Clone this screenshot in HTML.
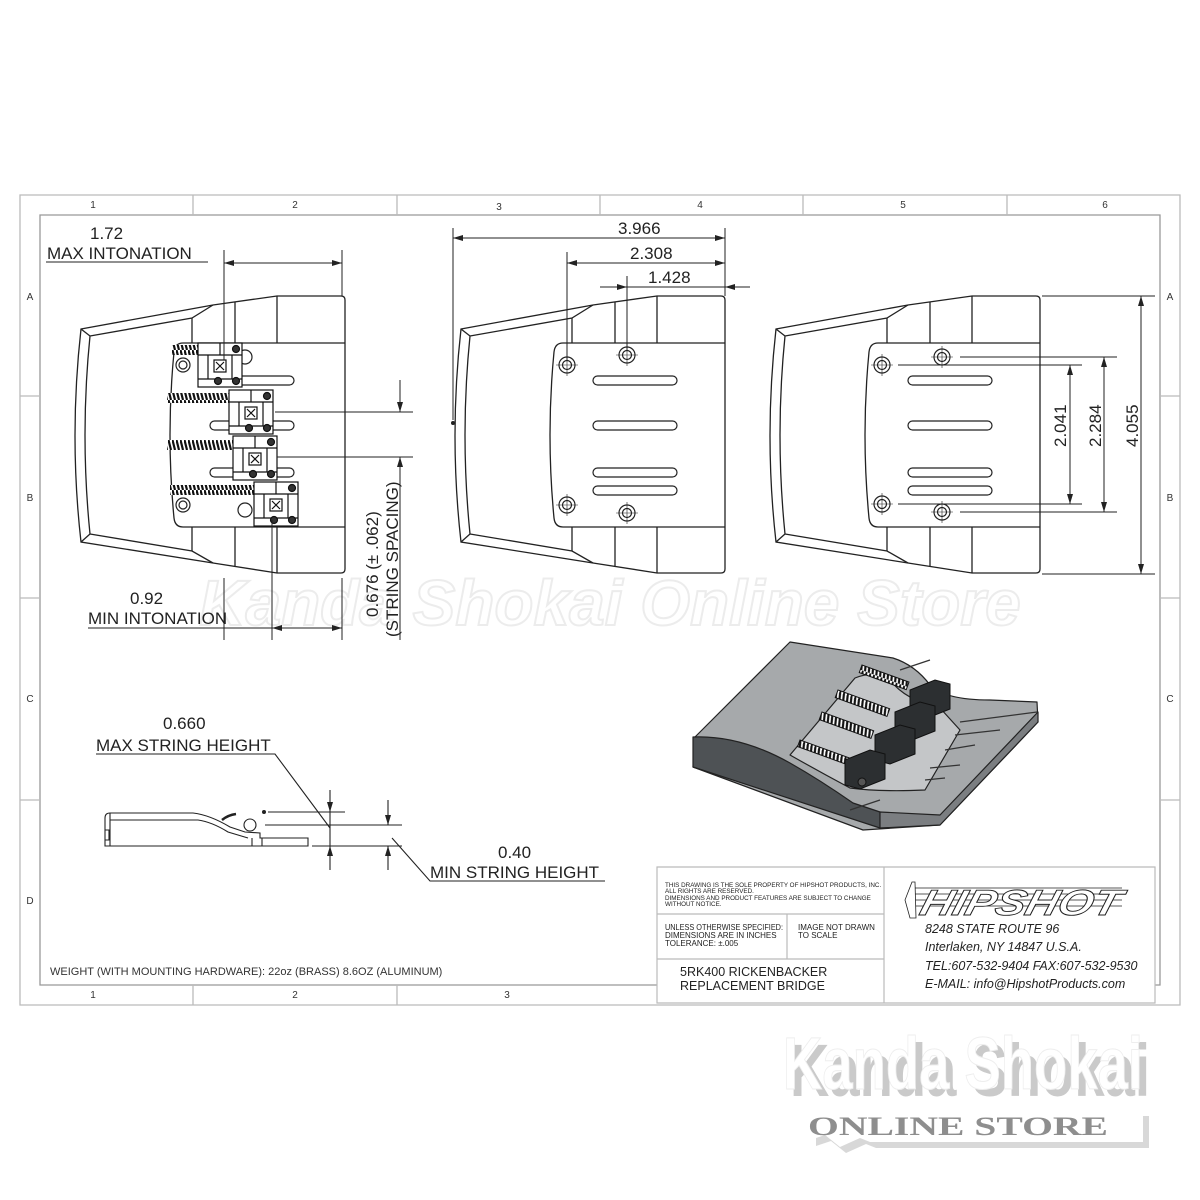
<!DOCTYPE html>
<html><head><meta charset="utf-8"><style>
html,body{margin:0;padding:0;background:#fff;}
svg{display:block;font-family:"Liberation Sans",sans-serif;}
</style></head><body>
<svg width="1200" height="1200" viewBox="0 0 1200 1200" xmlns="http://www.w3.org/2000/svg">
<defs>
<marker id="ar" viewBox="0 0 10 6" refX="10" refY="3" markerWidth="10" markerHeight="6" orient="auto-start-reverse" markerUnits="userSpaceOnUse"><path d="M0,0 L10,3 L0,6 z" fill="#222"/></marker>
<g id="body" fill="none" stroke="#222" stroke-width="1.3">
  <path d="M8,33 L140,9 L204,0 L268,0 Q272,0 272,4 L272,273 Q272,277 268,277 L204,277 L140,267 L8,246 Q-4,140 8,33 Z" fill="#fff"/>
  <path d="M17,40 L119,22 L140,9 M17,238 L119,255 L140,267 M17,40 Q7,139 17,238 M8,33 L17,40 M8,246 L17,238"/>
  <path d="M119,22 V47 M162,6 V47 M204,0 V47 M119,231 V255 M162,231 V271 M204,231 V277"/>
  <path d="M110,47 L272,47 M272,231 L110,231 Q102,231 101,222 Q93,139 101,56 Q102,47 110,47" />
</g>
<g id="holes" fill="none" stroke="#222" stroke-width="1.2">
  <circle cx="114" cy="69" r="8"/><circle cx="114" cy="69" r="4.5"/>
  <circle cx="174" cy="59" r="8"/><circle cx="174" cy="59" r="4.5"/>
  <circle cx="114" cy="209" r="8"/><circle cx="114" cy="209" r="4.5"/>
  <circle cx="174" cy="217" r="8"/><circle cx="174" cy="217" r="4.5"/>
  <path d="M103,69h22M114,58v22M163,59h22M174,48v22M103,209h22M114,198v22M163,217h22M174,206v22" stroke-width="0.6"/>
</g>
<g id="slots" fill="none" stroke="#222" stroke-width="1.2">
  <rect x="140" y="80" width="84" height="9" rx="4.5"/>
  <rect x="140" y="125" width="84" height="9" rx="4.5"/>
  <rect x="140" y="172" width="84" height="9" rx="4.5"/>
  <rect x="140" y="190" width="84" height="9" rx="4.5"/>
</g>
<g id="saddle" fill="#fff" stroke="#111" stroke-width="1.2">
  <rect x="0" y="0" width="44" height="44"/>
  <path d="M0,12H44M22,0V12M0,36H44M10,12V36M34,12V36" fill="none"/>
  <rect x="16" y="17" width="12" height="12"/>
  <path d="M18,19L26,27M26,19L18,27" />
  <circle cx="38" cy="6" r="3.5" fill="#333"/><circle cx="38" cy="38" r="3.5" fill="#333"/><circle cx="20" cy="38" r="3.5" fill="#333"/>
</g>
<pattern id="spr" width="4" height="10" patternUnits="userSpaceOnUse"><rect width="4" height="10" fill="#fff"/><path d="M0.5,0 L3,10" stroke="#111" stroke-width="2.2"/></pattern>
</defs>

<!-- frame -->
<g fill="none" stroke="#bbb" stroke-width="1.3">
  <path d="M20,195 H1180 V1005 H20 Z"/>
  <path d="M40,215 H1160 V985 H40 Z" stroke="#999"/>
  <path d="M193,195V215M397,195V215M600,195V215M803,195V215M1007,195V215"/>
  <path d="M193,985V1005M397,985V1005"/>
  <path d="M20,396H40M20,598H40M20,800H40M1160,396H1180M1160,598H1180M1160,800H1180"/>
</g>
<g font-size="10" fill="#333" text-anchor="middle">
  <text x="93" y="208">1</text><text x="295" y="208">2</text><text x="499" y="210">3</text><text x="700" y="208">4</text><text x="903" y="208">5</text><text x="1105" y="208">6</text>
  <text x="93" y="998">1</text><text x="295" y="998">2</text><text x="507" y="998">3</text>
  <text x="30" y="300">A</text><text x="30" y="501">B</text><text x="30" y="702">C</text><text x="30" y="904">D</text>
  <text x="1170" y="300">A</text><text x="1170" y="501">B</text><text x="1170" y="702">C</text>
</g>

<!-- watermark -->
<text x="610" y="625" font-size="64" font-weight="bold" fill="none" stroke="#ececec" stroke-width="2" text-anchor="middle" font-style="italic">Kanda Shokai Online Store</text>

<!-- left view -->
<g transform="translate(73,296)"><use href="#body"/></g>
<g transform="translate(73,296)" fill="none" stroke="#222" stroke-width="1.2">
  <rect x="137" y="80" width="84" height="9" rx="4.5"/><rect x="137" y="125" width="84" height="9" rx="4.5"/><rect x="137" y="172" width="84" height="9" rx="4.5"/>
  <circle cx="110" cy="69" r="7"/><circle cx="110" cy="69" r="4"/><circle cx="172" cy="61" r="7"/>
  <circle cx="110" cy="209" r="7"/><circle cx="110" cy="209" r="4"/><circle cx="172" cy="214" r="7"/>
</g>
<rect x="172" y="345" width="27" height="10" fill="url(#spr)"/>
<rect x="167" y="393" width="62" height="10" fill="url(#spr)"/>
<rect x="167" y="440" width="66" height="10" fill="url(#spr)"/>
<rect x="170" y="485" width="84" height="10" fill="url(#spr)"/>
<use href="#saddle" x="198" y="343"/>
<use href="#saddle" x="229" y="390"/>
<use href="#saddle" x="233" y="436"/>
<use href="#saddle" x="254" y="482"/>

<!-- left dims -->
<g stroke="#222" stroke-width="1" fill="none">
  <path d="M46,262H208"/>
  <path d="M224,250V360M342,250V296M224,578V640M272,520V640M342,578V640"/>
  <path d="M224,263H342" marker-start="url(#ar)" marker-end="url(#ar)"/>
  <path d="M88,628H272"/>
  <path d="M272,628H342" marker-start="url(#ar)" marker-end="url(#ar)"/>
  <path d="M275,412H413M277,457H413"/>
  <path d="M400,380V412" marker-end="url(#ar)"/>
  <path d="M400,490V457" marker-end="url(#ar)"/>
  <path d="M400,457V640"/>
</g>
<g font-size="17" fill="#222">
  <text x="90" y="239">1.72</text>
  <text x="47" y="259">MAX INTONATION</text>
  <text x="130" y="604">0.92</text>
  <text x="88" y="624">MIN INTONATION</text>
  <text transform="translate(378,617) rotate(-90)">0.676 (± .062)</text>
  <text transform="translate(398,637) rotate(-90)">(STRING SPACING)</text>
</g>

<!-- middle view -->
<g transform="translate(453,296)"><use href="#body"/><use href="#holes"/><use href="#slots"/></g>
<g stroke="#222" stroke-width="1" fill="none">
  <path d="M453,228V420M567,252V360M627,276V350M725,228V296"/>
  <path d="M453,238H725" marker-start="url(#ar)" marker-end="url(#ar)"/>
  <path d="M567,263H725" marker-start="url(#ar)" marker-end="url(#ar)"/>
  <path d="M600,287H627" marker-end="url(#ar)"/><path d="M750,287H725" marker-end="url(#ar)"/><path d="M627,287H725"/>
</g>
<circle cx="453" cy="423" r="2" fill="#222"/>
<g font-size="17" fill="#222">
  <text x="618" y="234">3.966</text>
  <text x="630" y="259">2.308</text>
  <text x="648" y="283">1.428</text>
</g>

<!-- right view -->
<g transform="translate(768,296)"><use href="#body"/><use href="#slots"/></g>
<g transform="translate(768,296)" fill="none" stroke="#222" stroke-width="1.2">
  <circle cx="114" cy="69" r="8"/><circle cx="114" cy="69" r="4.5"/>
  <circle cx="174" cy="61" r="8"/><circle cx="174" cy="61" r="4.5"/>
  <circle cx="114" cy="208" r="8"/><circle cx="114" cy="208" r="4.5"/>
  <circle cx="174" cy="216" r="8"/><circle cx="174" cy="216" r="4.5"/>
  <path d="M103,69h22M114,58v22M163,61h22M174,50v22M103,208h22M114,197v22M163,216h22M174,205v22" stroke-width="0.6"/>
</g>
<g stroke="#222" stroke-width="1" fill="none">
  <path d="M898,365H1082M960,357H1117M898,504H1082M960,512H1117M1042,296H1155M1042,574H1155"/>
  <path d="M1070,365V504" marker-start="url(#ar)" marker-end="url(#ar)"/>
  <path d="M1104,357V512" marker-start="url(#ar)" marker-end="url(#ar)"/>
  <path d="M1141,296V574" marker-start="url(#ar)" marker-end="url(#ar)"/>
</g>
<g font-size="17" fill="#222">
  <text transform="translate(1066,447) rotate(-90)">2.041</text>
  <text transform="translate(1101,447) rotate(-90)">2.284</text>
  <text transform="translate(1138,447) rotate(-90)">4.055</text>
</g>

<!-- side view -->
<g stroke="#222" stroke-width="1.1" fill="none">
  <path d="M110,813 H193 Q210,815 230,827 L245,832 L260,833 V838 H308 V846 H105 V818 Q105,813 110,813 Z" fill="#fff"/>
  <path d="M110,820 H198 Q212,822 228,832 L248,838"/>
  <path d="M110,813 V846 M105,830h4v10h-4"/>
  <circle cx="250" cy="825" r="6"/>
  <path d="M222,820 Q228,815 236,814" stroke-width="2.5"/>
  <path d="M252,838V846M262,838V846"/>
  <path d="M268,812H345M265,825H402M312,846H402"/>
  <path d="M330,790V812" marker-end="url(#ar)"/><path d="M330,870V846" marker-end="url(#ar)"/><path d="M330,812V846"/>
  <path d="M388,800V825" marker-end="url(#ar)"/><path d="M388,870V846" marker-end="url(#ar)"/>
  <path d="M96,754H275L330,828"/>
  <path d="M605,881H430L392,838"/>
</g>
<circle cx="264" cy="812" r="2" fill="#222"/>
<g font-size="17" fill="#222">
  <text x="163" y="729">0.660</text>
  <text x="96" y="751">MAX STRING HEIGHT</text>
  <text x="498" y="858">0.40</text>
  <text x="430" y="878">MIN STRING HEIGHT</text>
</g>

<!-- 3D render -->
<g stroke="#222" stroke-width="1.2" stroke-linejoin="round">
  <path d="M695,737 L790,642 L893,658 Q915,665 930,685 Q945,700 990,700 L1037,702 L1038,722 L940,825 L863,830 L693,767 Z" fill="#a6a9ab"/>
  <path d="M693,737 Q740,735 790,763 Q820,780 853,803 L880,812 L880,828 L693,767 Z" fill="#4e5255"/>
  <path d="M880,812 L940,815 L1038,712 L1038,722 L940,825 L880,828 Z" fill="#7b7e81"/>
  <path d="M790,755 L855,678 Q875,670 890,680 Q905,700 940,708 L960,730 L925,790 Q880,792 850,788 Q820,772 790,755 Z" fill="#c4c6c8"/>
  <path d="M960,722 L1037,712 M955,735 L1000,730 M945,750 L975,745 M930,768 L960,765 M925,780 L945,778 M850,810 L880,800 M900,670 L930,660" stroke="#333" fill="none"/>
</g>
<g stroke="#111" stroke-width="1">
  <rect x="862" y="665" width="50" height="8" fill="url(#spr)" transform="rotate(20 862 665)"/>
  <rect x="838" y="690" width="55" height="8" fill="url(#spr)" transform="rotate(20 838 690)"/>
  <rect x="822" y="712" width="55" height="8" fill="url(#spr)" transform="rotate(20 822 712)"/>
  <rect x="800" y="740" width="55" height="7" fill="url(#spr)" transform="rotate(20 800 740)"/>
  <path d="M910,690 l25,-10 l15,4 l0,25 l-25,10 l-15,-4 z" fill="#2c2f31"/>
  <path d="M895,712 l25,-10 l15,4 l0,25 l-25,10 l-15,-4 z" fill="#2c2f31"/>
  <path d="M875,735 l25,-10 l15,4 l0,25 l-25,10 l-15,-4 z" fill="#2c2f31"/>
  <path d="M845,760 l25,-10 l15,4 l0,25 l-25,10 l-15,-4 z" fill="#2c2f31"/>
  <circle cx="862" cy="782" r="4" fill="#555"/>
</g>

<!-- weight -->
<text x="50" y="975" font-size="11" fill="#333">WEIGHT (WITH MOUNTING HARDWARE): 22oz (BRASS) 8.6OZ (ALUMINUM)</text>

<!-- title block -->
<g fill="none" stroke="#bbb" stroke-width="1.2">
  <path d="M657,867H1155V1003H657Z" fill="#fff"/>
  <path d="M884,867V1003M657,914H884M657,959H884M787,914V959"/>
</g>
<g font-size="6.3" fill="#222">
  <text x="665" y="887">THIS DRAWING IS THE SOLE PROPERTY OF HIPSHOT PRODUCTS, INC.</text>
  <text x="665" y="893">ALL RIGHTS ARE RESERVED.</text>
  <text x="665" y="900">DIMENSIONS AND PRODUCT FEATURES ARE SUBJECT TO CHANGE</text>
  <text x="665" y="906">WITHOUT NOTICE.</text>
</g>
<g font-size="8" fill="#222">
  <text x="665" y="930" textLength="118" lengthAdjust="spacingAndGlyphs">UNLESS OTHERWISE SPECIFIED:</text>
  <text x="665" y="938">DIMENSIONS ARE IN INCHES</text>
  <text x="665" y="946">TOLERANCE: ±.005</text>
  <text x="798" y="930">IMAGE NOT DRAWN</text>
  <text x="798" y="938">TO SCALE</text>
</g>
<g font-size="12.5" fill="#222">
  <text x="680" y="976">5RK400 RICKENBACKER</text>
  <text x="680" y="990">REPLACEMENT BRIDGE</text>
</g>
<g font-size="12.5" fill="#222" font-style="italic">
  <text x="925" y="933">8248 STATE ROUTE 96</text>
  <text x="925" y="951">Interlaken, NY 14847 U.S.A.</text>
  <text x="925" y="970">TEL:607-532-9404 FAX:607-532-9530</text>
  <text x="925" y="988">E-MAIL: info@HipshotProducts.com</text>
</g>
<g stroke="#222" stroke-width="0.8" fill="none">
  <path d="M915,888H1122M915,894H1122M915,900H1122M915,906H1122"/>
  <path d="M912,882 L905,900 L910,918 L916,918 L915,882 Z" fill="#fff"/>
  <text x="918" y="915" font-size="36" font-weight="bold" font-style="italic" fill="#fff" stroke="#222" stroke-width="0.9" transform="translate(918,915) skewX(-15) translate(-918,-915)" textLength="200" lengthAdjust="spacingAndGlyphs">HIPSHOT</text>
</g>

<!-- Kanda Shokai logo -->
<g font-family="'Liberation Sans Narrow','Liberation Sans',sans-serif" font-weight="bold">
  <text x="790" y="1096" font-size="74" fill="#bdbdbd" textLength="360" lengthAdjust="spacingAndGlyphs" opacity="0.8">Kanda Shokai</text>
  <text x="783" y="1089" font-size="74" fill="#fff" stroke="#eee" stroke-width="1" textLength="360" lengthAdjust="spacingAndGlyphs">Kanda Shokai</text>
</g>
<path d="M810,1110 H1143 V1142 H870 L860,1138 L840,1147 L825,1135 L810,1140 Z" fill="#c8c8c8" transform="translate(6,6)" opacity="0.7"/>
<path d="M810,1110 H1143 V1142 H870 L860,1138 L840,1147 L825,1135 L810,1140 Z" fill="#fff"/>
<text x="808" y="1135" font-size="26" font-weight="bold" fill="#8e8e8e" font-family="'Liberation Serif',serif" textLength="300" lengthAdjust="spacingAndGlyphs">ONLINE STORE</text>
</svg>
</body></html>
